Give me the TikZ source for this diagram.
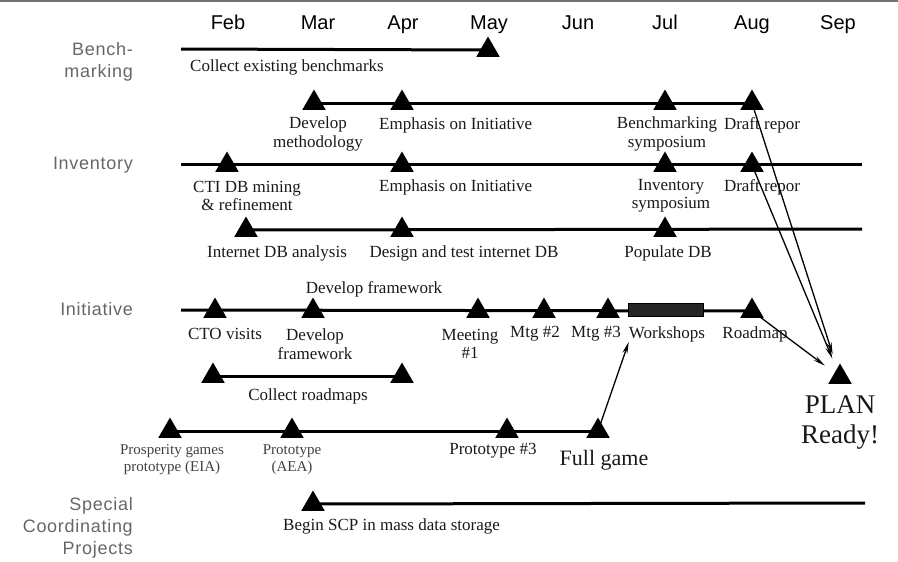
\documentclass[tikz,border=0pt]{standalone}
\usepackage{fontspec}
\setmainfont{Liberation Serif}
\setsansfont{Liberation Sans}
\newfontfamily\trackfont[LetterSpace=4]{Liberation Sans}
\usetikzlibrary{shapes.geometric, arrows.meta}

\tikzset{
    month/.style={font=\sffamily\fontsize{20}{22}\selectfont, anchor=base},
    track/.style={font=\trackfont\fontsize{18}{22}\selectfont, text=black!60, align=right, anchor=east, inner sep=0pt},
    task/.style={font=\fontsize{17}{18.5}\selectfont, text=black!90, align=center, inner sep=0pt},
    smalltask/.style={task, font=\fontsize{15}{17}\selectfont},
    bar/.style={line width=3pt},
    milestone/.style={regular polygon, regular polygon sides=3, minimum size=27pt, inner sep=0pt, fill=black},
    feed/.style={line width=1.3pt, -{Stealth[length=12pt, width=5pt]}},
}

\begin{document}
\begin{tikzpicture}[x=1pt, y=-1pt]
    \useasboundingbox (0,0) rectangle (898,562);
    \draw[black!55, line width=1.5pt] (0,1) -- (898,1);

    % Months
    \foreach \m/\x in {Feb/228, Mar/318, Apr/403, May/489, Jun/578, Jul/665, Aug/752, Sep/838}
        \node[month] (m\m) at (\x,29) {\m};

    % Tracks
    \node[track] (tbench) at (133,61.5) {Bench-\\marking};
    \node[track] (tinv) at (133,165) {Inventory};
    \node[track] (tinit) at (133,309) {Initiative};
    \node[track] (tscp) at (133,528) {Special\\Coordinating\\Projects};

    % Benchmarking
    \coordinate (r1s) at (181,49);
    \node[milestone] (r1may) at (488,50) {};
    \draw[bar] (r1s) -- (r1may.center);
    \node[task, anchor=west] (lcollect) at (190,67) {Collect existing benchmarks};

    \node[milestone] (r2dev) at (314,103) {};
    \node[milestone] (r2emp) at (402,103) {};
    \node[milestone] (r2sym) at (665,103) {};
    \node[milestone] (r2draft) at (752,103) {};
    \draw[bar] (r2dev.center) -- (r2draft.center);
    \node[task] (ldev) at (318,134) {Develop\\methodology};
    \node[task, anchor=west] (lemp) at (379,125) {Emphasis on Initiative};
    \node[task] (lbsym) at (667,134) {Benchmarking\\symposium};
    \node[task] (ldraft) at (762,125) {Draft repor};

    % Inventory
    \coordinate (r3s) at (181,164);
    \coordinate (r3e) at (862,164);
    \node[milestone] (r3cti) at (227,165) {};
    \node[milestone] (r3emp) at (402,165) {};
    \node[milestone] (r3sym) at (665,165) {};
    \node[milestone] (r3draft) at (752,165) {};
    \draw[bar] (r3s) -- (r3e);
    \node[task] (lcti) at (247,196) {CTI DB mining\\\& refinement};
    \node[task, anchor=west] (lemp2) at (379,187) {Emphasis on Initiative};
    \node[task] (lisym) at (671,196) {Inventory\\symposium};
    \node[task] (ldraft2) at (762,187) {Draft repor};

    \coordinate (r4e) at (862,229);
    \node[milestone] (r4net) at (246,230) {};
    \node[milestone] (r4des) at (402,230) {};
    \node[milestone] (r4pop) at (665,230) {};
    \draw[bar] (r4net.center) -- (r4e);
    \node[task] (lnet) at (277,253) {Internet DB analysis};
    \node[task] (ldes) at (464,253) {Design and test internet DB};
    \node[task] (lpop) at (668,253) {Populate DB};

    % Initiative
    \coordinate (r5s) at (181,310);
    \node[milestone] (r5cto) at (215,311) {};
    \node[milestone] (r5dev) at (313,311) {};
    \node[milestone] (r5m1) at (478,311) {};
    \node[milestone] (r5m2) at (544,311) {};
    \node[milestone] (r5m3) at (608,311) {};
    \node[milestone] (r5road) at (752,311) {};
    \draw[bar] (r5s) -- (r5road.center);
    \node[draw=black, fill=black!85, minimum width=75pt, minimum height=13pt, inner sep=0pt] (wbox) at (666,309.5) {};
    \node[task] (lfw) at (374,289) {Develop framework};
    \node[task] (lcto) at (225,334) {CTO visits};
    \node[task] (ldevfw) at (315,344) {Develop\\framework};
    \node[task] (lm1) at (470,344) {Meeting\\\#1};
    \node[task] (lm2) at (535,334) {Mtg \#2};
    \node[task] (lm3) at (596,334) {Mtg \#3};
    \node[task] (lwork) at (667,334) {Workshops};
    \node[task] (lroad) at (755,334) {Roadmap};

    \node[milestone] (r6a) at (213,376) {};
    \node[milestone] (r6b) at (402,376) {};
    \draw[bar] (r6a.center) -- (r6b.center);
    \node[task] (lroadmaps) at (308,396) {Collect roadmaps};

    \node[milestone] (r7eia) at (170,431) {};
    \node[milestone] (r7aea) at (292,431) {};
    \node[milestone] (r7p3) at (507,431) {};
    \node[milestone] (r7full) at (598,431) {};
    \draw[bar] (r7eia.center) -- (r7full.center);
    \node[smalltask, text=black!75] (leia) at (172,460) {Prosperity games\\prototype (EIA)};
    \node[smalltask, text=black!75] (laea) at (292,460) {Prototype\\(AEA)};
    \node[task] (lp3) at (493,451) {Prototype \#3};
    \node[task, font=\fontsize{22}{24}\selectfont] (lfull) at (604,460) {Full game};

    % Special coordinating projects
    \coordinate (r8e) at (865,503);
    \node[milestone] (r8scp) at (313,504) {};
    \draw[bar] (r8scp.center) -- (r8e);
    \node[task, anchor=west] (lscp) at (283,526) {Begin SCP in mass data storage};

    % Plan
    \node[milestone] (plan) at (840,377) {};
    \node[task, font=\fontsize{27}{30}\selectfont] (lplan) at (840,422) {PLAN\\Ready!};

    % Feeds into the plan
    \draw[feed] (r7full.center) -- (lwork.south west);
    \draw[feed, shorten >=24pt] (r2draft.center) -- (plan.center);
    \draw[feed, shorten >=20pt] (r3draft.center) -- (plan.center);
    \draw[feed, shorten >=19pt] (r5road.center) -- (plan.center);
\end{tikzpicture}
\end{document}
